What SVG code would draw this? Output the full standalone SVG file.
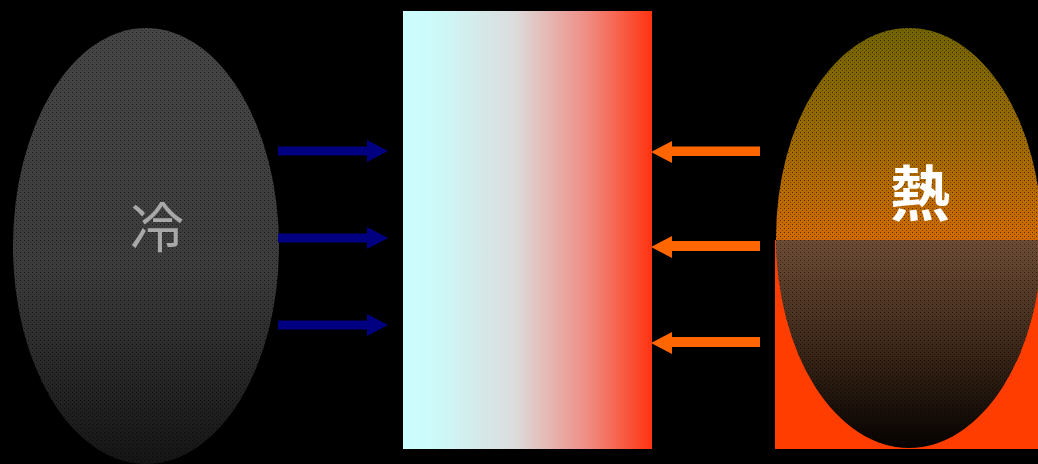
<svg xmlns="http://www.w3.org/2000/svg" width="1038" height="464" viewBox="0 0 1038 464">
<style>
.blue{fill:#000080}
.orange{fill:#ff6600}
.lbl{font-family:"Noto Sans CJK JP","Noto Sans CJK SC",sans-serif;text-anchor:middle}
</style>
<defs>
<linearGradient id="gCold" x1="0" y1="0" x2="0" y2="1">
<stop offset="0" stop-color="#464646"/>
<stop offset="0.55" stop-color="#3c3c3c"/>
<stop offset="1" stop-color="#151515"/>
</linearGradient>
<linearGradient id="gBar" x1="0" y1="0" x2="1" y2="0">
<stop offset="0" stop-color="#ccffff"/>
<stop offset="0.15" stop-color="#cdf8f8"/>
<stop offset="0.45" stop-color="#dcdcdc"/>
<stop offset="0.75" stop-color="#f08a80"/>
<stop offset="1" stop-color="#ff3311"/>
</linearGradient>
<linearGradient id="gHotTop" x1="0" y1="28" x2="0" y2="240" gradientUnits="userSpaceOnUse">
<stop offset="0" stop-color="#736400"/>
<stop offset="0.5" stop-color="#9a6a00"/>
<stop offset="1" stop-color="#d06a00"/>
</linearGradient>
<linearGradient id="gHotBot" x1="0" y1="240" x2="0" y2="448" gradientUnits="userSpaceOnUse">
<stop offset="0" stop-color="#6e4d36"/>
<stop offset="0.5" stop-color="#3e2819"/>
<stop offset="1" stop-color="#050200"/>
</linearGradient>
<pattern id="dots" width="4" height="4" patternUnits="userSpaceOnUse">
<rect x="0" y="0" width="1" height="1" fill="#000" fill-opacity="0.6"/>
<rect x="2" y="2" width="1" height="1" fill="#000" fill-opacity="0.35"/>
</pattern>
<clipPath id="topHalf"><rect x="770" y="0" width="268" height="240"/></clipPath>
<clipPath id="botHalf"><rect x="770" y="240" width="268" height="224"/></clipPath>
</defs>
<rect width="1038" height="464" fill="#000"/>

<g id="cold">
<ellipse cx="146" cy="246" rx="133" ry="218" fill="url(#gCold)"/>
<ellipse cx="146" cy="246" rx="133" ry="218" fill="url(#dots)"/>
<text class="lbl" x="157" y="248" font-size="54" fill="#a8a8a8">冷</text>
</g>

<g id="bar">
<rect x="403" y="11" width="249" height="438" fill="url(#gBar)"/>
</g>

<g id="hot">
<rect x="775" y="240" width="263" height="209" fill="#ff3d00"/>
<ellipse cx="909" cy="238" rx="133" ry="210" fill="url(#gHotTop)" clip-path="url(#topHalf)"/>
<ellipse cx="909" cy="238" rx="133" ry="210" fill="url(#gHotBot)" clip-path="url(#botHalf)"/>
<ellipse cx="909" cy="238" rx="133" ry="210" fill="url(#dots)"/>
<text class="lbl" x="920" y="216" font-size="60" font-weight="bold" fill="#ffffff">熱</text>
</g>

<g id="connectors">
<path class="blue" d="M278 146.5 H367 V140 L388 151 L367 162 V155.5 H278 Z"/>
<path class="blue" d="M278 233.5 H367 V227 L388 238 L367 249 V242.5 H278 Z"/>
<path class="blue" d="M278 320.5 H367 V314 L388 325 L367 336 V329.5 H278 Z"/>
<path class="orange" d="M760 146.5 H672 V141 L651 152 L672 163 V156 H760 Z"/>
<path class="orange" d="M760 241 H672 V236 L651 247 L672 258 V251 H760 Z"/>
<path class="orange" d="M760 337 H672 V332 L651 343 L672 354 V347 H760 Z"/>
</g>
</svg>
